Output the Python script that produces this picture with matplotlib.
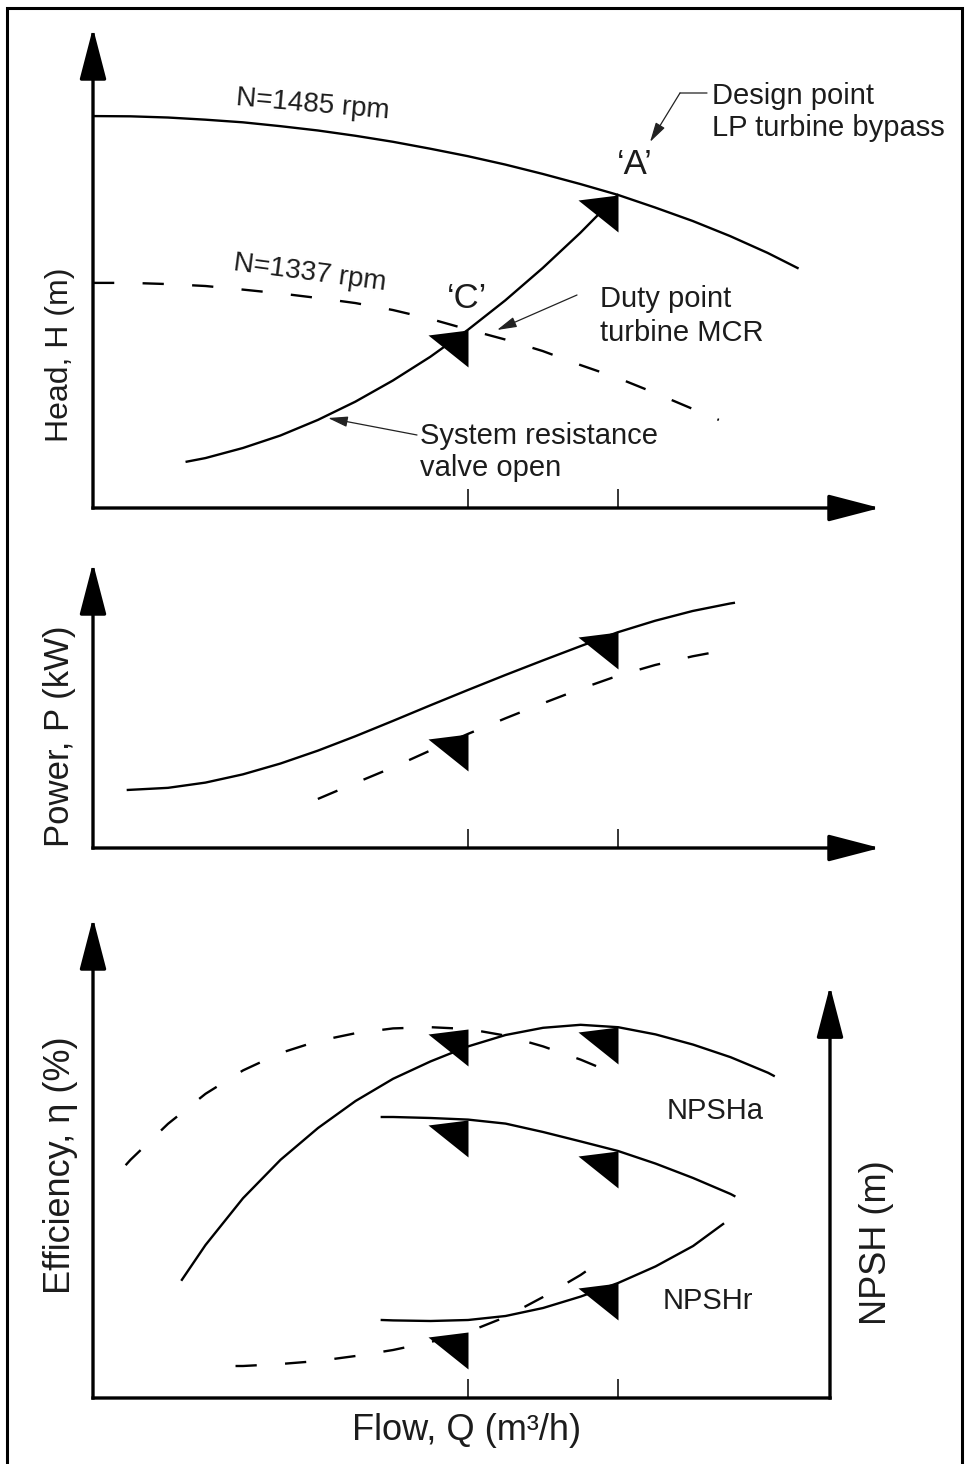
import numpy as np
import matplotlib
matplotlib.use('Agg')
import matplotlib.pyplot as plt
from matplotlib.path import Path
from matplotlib.patches import Rectangle

plt.rcParams['font.family'] = ['Liberation Sans', 'DejaVu Sans']

# operating points on the flow axis: 'C' (duty, MCR) and 'A' (design, bypass)
q_C = 10.0
q_A = 14.0

# head curve at 1485 rpm
q_n1485 = [0, 1, 2, 3, 4, 5, 6, 7, 8, 9, 10, 11, 12, 13, 14, 15, 16, 17, 18, 18.8]
h_n1485 = [16.33, 16.32, 16.27, 16.18, 16.07, 15.91, 15.73, 15.51, 15.26, 14.97,
           14.66, 14.31, 13.92, 13.50, 13.05, 12.52, 11.96, 11.33, 10.63, 10.0]

# head curve at 1337 rpm
q_n1337 = [0, 1, 2, 3, 4, 5, 6, 7, 8, 9, 10, 11, 12, 13, 14, 15, 16, 16.7]
h_n1337 = [9.38, 9.38, 9.33, 9.25, 9.10, 8.94, 8.75, 8.54, 8.25, 7.88,
           7.44, 7.02, 6.54, 5.96, 5.42, 4.79, 4.13, 3.67]

# system resistance, valve open
q_sys = [2.5, 3, 4, 5, 6, 7, 8, 9, 10, 11, 12, 13, 14]
h_sys = [1.93, 2.08, 2.50, 3.02, 3.67, 4.43, 5.31, 6.30, 7.42, 8.65, 10.0, 11.46, 13.04]

# absorbed power
q_p1485 = [0.93, 2, 3, 4, 5, 6, 7, 8, 9, 10, 11, 12, 13, 14, 15, 16, 17, 17.1]
p_1485 = [3.87, 4.01, 4.36, 4.91, 5.63, 6.49, 7.45, 8.47, 9.51, 10.53,
          11.53, 12.50, 13.45, 14.38, 15.15, 15.80, 16.30, 16.34]
q_p1337 = [6, 7, 8, 9, 10, 11, 12, 13, 14, 15, 16, 17]
p_1337 = [3.27, 4.33, 5.37, 6.50, 7.60, 8.64, 9.64, 10.60, 11.48, 12.20, 12.78, 13.25]

# efficiency (%)
q_e1485 = [2.37, 3, 4, 5, 6, 7, 8, 9, 10, 11, 12, 13, 14, 15, 16, 17, 18, 18.15]
eta_1485 = [19.7, 25.5, 33.3, 39.7, 45.0, 49.5, 53.2, 56.1, 58.6, 60.5,
            61.7, 62.2, 61.8, 60.6, 58.9, 56.8, 54.2, 53.7]
q_e1337 = [0.87, 1, 2, 3, 4, 5, 6, 7, 8, 9, 10, 11, 12, 13, 14]
eta_1337 = [38.8, 39.7, 45.7, 50.7, 54.6, 57.5, 59.5, 60.8, 61.6, 61.8,
            61.5, 60.4, 58.6, 56.4, 53.8]

# NPSH (m)
q_npsha = [7.7, 8, 9, 10, 11, 12, 13, 14, 15, 16, 17, 17.1]
npsha = [14.05, 14.05, 14.0, 13.92, 13.72, 13.3, 12.83, 12.35, 11.72, 11.0, 10.2, 10.1]
q_npshr1485 = [7.7, 8, 9, 10, 11, 12, 13, 14, 15, 16, 16.8]
npshr_1485 = [3.9, 3.88, 3.85, 3.9, 4.1, 4.5, 5.07, 5.75, 6.58, 7.6, 8.7]
q_npshr1337 = [3.8, 4, 5, 6, 7, 8, 9, 10, 11, 12, 13, 13.5]
npshr_1337 = [1.6, 1.6, 1.7, 1.85, 2.1, 2.4, 2.8, 3.3, 4.05, 5.05, 6.15, 6.8]

W, H = 967, 1464
fig = plt.figure(figsize=(W / 100, H / 100), dpi=100)


def box(left, top, right, bottom):
    return [left / W, 1 - bottom / H, (right - left) / W, (bottom - top) / H]


def fpos(x, y):
    return (x / W, 1 - y / H)


ax1 = fig.add_axes(box(93, 28, 880, 508))
ax2 = fig.add_axes(box(93, 563, 880, 848))
ax3 = fig.add_axes(box(93, 918, 830, 1398))
ax3r = ax3.twinx()

ax1.set_xlim(0, 21)
ax1.set_ylim(0, 20)
ax2.set_xlim(0, 21)
ax2.set_ylim(0, 19)
ax3.set_xlim(0, 19.65)
ax3.set_ylim(0, 80)
ax3r.set_ylim(0, 24)

for ax in (ax1, ax2, ax3, ax3r):
    for s in ax.spines.values():
        s.set_visible(False)
    ax.set_yticks([])
    ax.patch.set_visible(False)
for ax in (ax1, ax2, ax3):
    ax.set_xticks([q_C, q_A])
    ax.tick_params(axis='x', direction='in', length=14, width=1.1,
                   labelbottom=False, color='k')


def axis_line(ax, start, end, head=True):
    style = '-|>,head_length=1.0,head_width=0.26' if head else '-'
    ax.annotate('', xy=end, xytext=start, xycoords='axes fraction',
                annotation_clip=False,
                arrowprops=dict(arrowstyle=style, mutation_scale=32, lw=2.4,
                                color='k', shrinkA=0, shrinkB=0,
                                capstyle='projecting'))


axis_line(ax1, (0, 0), (1, 0))
axis_line(ax1, (0, 0), (0, 1))
axis_line(ax2, (0, 0), (1, 0))
axis_line(ax2, (0, 0), (0, 1))
axis_line(ax3, (0, 0), (1, 0), head=False)
axis_line(ax3, (0, 0), (0, 1))
axis_line(ax3, (1, 0), (1, 0.858))

lw = 1.7
dash = (0, (9, 12))

ax1.plot(q_n1485, h_n1485, color='k', lw=lw)
ax1.plot(q_n1337, h_n1337, color='k', lw=lw, ls=dash)
ax1.plot(q_sys, h_sys, color='k', lw=lw)

ax2.plot(q_p1485, p_1485, color='k', lw=lw)
ax2.plot(q_p1337, p_1337, color='k', lw=lw, ls=dash)

ax3.plot(q_e1485, eta_1485, color='k', lw=lw)
ax3.plot(q_e1337, eta_1337, color='k', lw=lw, ls=dash)
ax3r.plot(q_npsha, npsha, color='k', lw=lw)
ax3r.plot(q_npshr1485, npshr_1485, color='k', lw=lw)
ax3r.plot(q_npshr1337, npshr_1337, color='k', lw=lw, ls=dash)

# arrow-flag markers at the operating points
tri = Path([(0, 0), (-40, -5), (0, -37), (0, 0)],
           [Path.MOVETO, Path.LINETO, Path.LINETO, Path.CLOSEPOLY])


def flag(ax, q, qs, vs):
    ax.plot([q], [np.interp(q, qs, vs)], marker=tri, ms=57.6, color='k',
            mew=0, ls='none', zorder=5, clip_on=False)


flag(ax1, q_C, q_sys, h_sys)
flag(ax1, q_A, q_sys, h_sys)
flag(ax2, q_C, q_p1337, p_1337)
flag(ax2, q_A, q_p1485, p_1485)
flag(ax3, q_C, q_e1337, eta_1337)
flag(ax3, q_A, q_e1485, eta_1485)
flag(ax3r, q_C, q_npsha, npsha)
flag(ax3r, q_A, q_npsha, npsha)
flag(ax3r, q_C, q_npshr1337, npshr_1337)
flag(ax3r, q_A, q_npshr1485, npshr_1485)

tc = '#1c1c1c'
fs = 21

# axis titles
fig.text(*fpos(60, 355), 'Head, H (m)', rotation=90, ha='center', va='center',
         fontsize=23, color=tc, rotation_mode='anchor')
fig.text(*fpos(60, 736), 'Power, P (kW)', rotation=90, ha='center', va='center',
         fontsize=25, color=tc, rotation_mode='anchor')
fig.text(*fpos(60, 1165), 'Efficiency, η (%)', rotation=90, ha='center', va='center',
         fontsize=26, color=tc, rotation_mode='anchor')
fig.text(*fpos(877, 1243), 'NPSH (m)', rotation=90, ha='center', va='center',
         fontsize=26, color=tc, rotation_mode='anchor')
fig.text(*fpos(467, 1430), 'Flow, Q (m³/h)', ha='center', va='center',
         fontsize=26, color=tc)

# curve and point labels
fig.text(*fpos(313, 105), 'N=1485 rpm', rotation=-5, ha='center', va='center',
         fontsize=20, color=tc, rotation_mode='anchor')
fig.text(*fpos(310, 273), 'N=1337 rpm', rotation=-7.5, ha='center', va='center',
         fontsize=20, color=tc, rotation_mode='anchor')
fig.text(*fpos(635, 165), '‘A’', ha='center', va='center', fontsize=25, color=tc)
fig.text(*fpos(467, 298), '‘C’', ha='center', va='center', fontsize=25, color=tc)
fig.text(*fpos(712, 112), 'Design point\nLP turbine bypass', ha='left', va='center',
         fontsize=fs, color=tc, linespacing=1.2)
fig.text(*fpos(600, 316), 'Duty point\nturbine MCR', ha='left', va='center',
         fontsize=fs, color=tc, linespacing=1.27)
fig.text(*fpos(420, 452), 'System resistance\nvalve open', ha='left', va='center',
         fontsize=fs, color=tc, linespacing=1.2)
fig.text(*fpos(667, 1111), 'NPSHa', ha='left', va='center', fontsize=fs, color=tc)
fig.text(*fpos(663, 1301), 'NPSHr', ha='left', va='center', fontsize=fs, color=tc)

# leader arrows
lead = dict(arrowstyle='-|>,head_length=0.6,head_width=0.16', mutation_scale=20,
            lw=0.9, color='#222222', shrinkA=0, shrinkB=0)
ax1.annotate('', xy=fpos(680, 93), xytext=fpos(707, 93), xycoords='figure fraction',
             arrowprops=dict(arrowstyle='-', lw=0.9, color='#222222',
                             shrinkA=0, shrinkB=0), annotation_clip=False)
ax1.annotate('', xy=fpos(650, 142), xytext=fpos(680, 93), xycoords='figure fraction',
             arrowprops=lead, annotation_clip=False)
ax1.annotate('', xy=fpos(497, 330), xytext=fpos(577, 295), xycoords='figure fraction',
             arrowprops=lead, annotation_clip=False)
ax1.annotate('', xy=fpos(328, 418), xytext=fpos(417, 435), xycoords='figure fraction',
             arrowprops=lead, annotation_clip=False)

# frame around the whole figure
fig.patches.append(Rectangle((7 / W, 1 - 1467 / H), 955 / W, 1459 / H,
                             transform=fig.transFigure, fill=False, lw=2.2,
                             ec='k', zorder=10))

fig.savefig('out.png', dpi=100)
